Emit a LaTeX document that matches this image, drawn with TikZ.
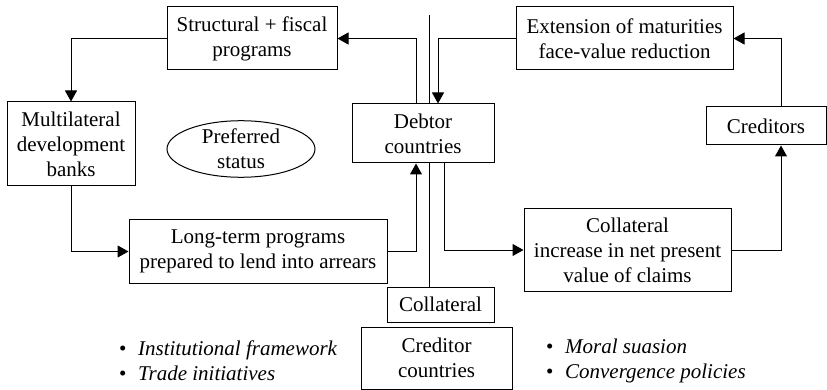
\documentclass[tikz,border=0pt]{standalone}
\usepackage{fontspec}
\setmainfont{Liberation Serif}
\usetikzlibrary{arrows.meta,shapes.geometric}
\begin{document}
\begin{tikzpicture}[x=1pt,y=-1pt,
  every node/.style={font=\fontsize{21}{25}\selectfont},
  box/.style={draw,line width=1pt,fill=white,align=center,inner sep=0pt},
  arr/.style={line width=1pt,-{Triangle[length=11pt,width=12pt]}},
  ln/.style={line width=1pt},
  bul/.style={align=left,anchor=west,inner sep=0pt,font=\fontsize{21}{25}\selectfont\itshape}]
\useasboundingbox (0,0) rectangle (827,390);
\node[box,minimum width=170,minimum height=63] (struct) at (252,38.5) {Structural + fiscal\\programs};
\node[box,minimum width=217,minimum height=63] (ext) at (624.5,38.5) {Extension of maturities\\face-value reduction};
\node[box,minimum width=128,minimum height=84] (mdb) at (71,144) {Multilateral\\development\\banks};
\node[draw,ellipse,line width=1pt,align=center,inner sep=0pt,minimum width=148,minimum height=48] (pref) at (241,149) {Preferred\\status};
\node[box,minimum width=142,minimum height=59] (debtor) at (423,133.5) {Debtor\\countries};
\node[box,minimum width=120,minimum height=38] (cred) at (766,126) {Creditors};
\node[box,minimum width=258,minimum height=63] (long) at (258,251.5) {Long-term programs\\prepared to lend into arrears};
\node[box,minimum width=207,minimum height=82] (npv) at (627.5,250) {Collateral\\increase in net present\\value of claims};
\node[box,minimum width=107,minimum height=35] (coll) at (440.5,304.5) {Collateral};
\node[box,minimum width=151,minimum height=62] (credc) at (436.5,358) {Creditor\\countries};
\node[bul] (bl) at (119,360.5) {\textup{\textbullet}\hspace{0.55em}Institutional framework\\\textup{\textbullet}\hspace{0.55em}Trade initiatives};
\node[bul] (br) at (546,360.5) {\textup{\textbullet}\hspace{0.55em}Moral suasion\\\textup{\textbullet}\hspace{0.55em}Convergence policies};
\coordinate (vtop) at (429,15);
\draw[ln] (vtop) -- (vtop |- debtor.north);
\draw[ln] (vtop |- debtor.south) -- (vtop |- coll.north);
\draw[arr] (struct.west) -| (mdb.north);
\draw[arr] (mdb.south) |- (long.west);
\draw[arr] (long.east) -| ([xshift=-7]debtor.south);
\draw[arr] ([xshift=-7]debtor.north) |- (struct.east);
\draw[arr] (ext.west) -| ([xshift=15]debtor.north);
\draw[arr] ([xshift=21]debtor.south) |- (npv.west);
\draw[arr] (npv.east) -| ([xshift=15]cred.south);
\draw[arr] ([xshift=15]cred.north) |- (ext.east);
\end{tikzpicture}
\end{document}
